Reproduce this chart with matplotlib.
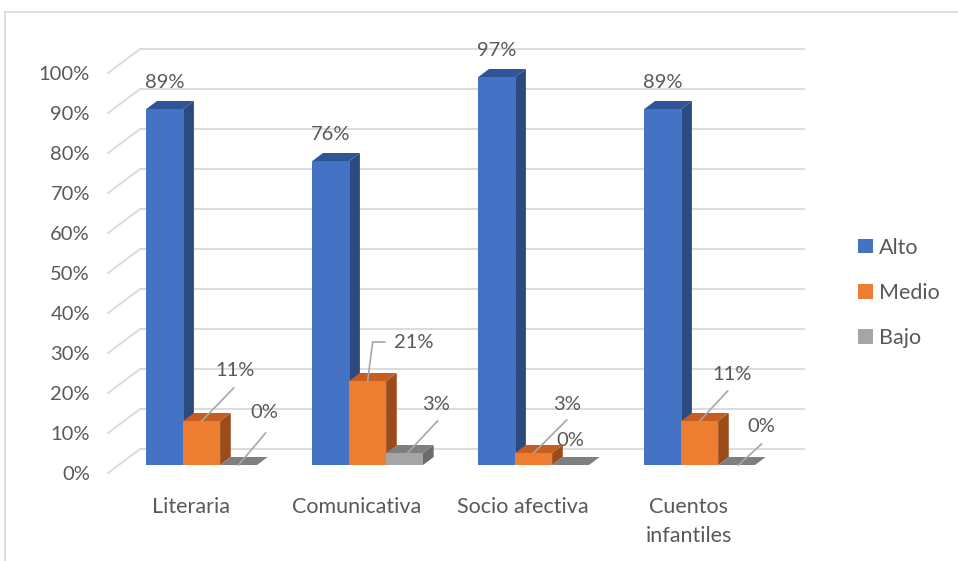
import matplotlib
matplotlib.use('Agg')
import matplotlib.pyplot as plt
from matplotlib.patches import Polygon, Patch
from matplotlib.lines import Line2D
from matplotlib.transforms import IdentityTransform

# ---------------- data ----------------
categories = ['Literaria', 'Comunicativa', 'Socio afectiva', 'Cuentos\ninfantiles']
series = ['Alto', 'Medio', 'Bajo']
alto = [89, 76, 97, 89]
medio = [11, 21, 3, 11]
bajo = [0, 3, 0, 0]
yticks = list(range(0, 101, 10))
ytick_labels = [f'{v}%' for v in yticks]

# ---------------- style ----------------
plt.rcParams['font.family'] = ['Lato', 'DejaVu Sans']
TXT = '#595959'
GRID = '#D9D9D9'
FS_NUM = 14.5
FS_TXT = 15.5
front_c = ['#4472C4', '#ED7D31', '#A5A5A5']
top_c = ['#2F5597', '#C55E1F', '#7F7F7F']
side_c = ['#2A4A80', '#9C4B1B', '#6B6B6B']

W, H = 958, 561
fig = plt.figure(figsize=(W / 100, H / 100), dpi=100)
ax = fig.add_axes([108 / W, 88 / H, 664 / W, 400 / H])
ax.set_xlim(0, 4)
ax.set_ylim(0, 100)
for s in ax.spines.values():
    s.set_visible(False)

# oblique depth (data units) of the whole floor
DX, DY = 32 / 166, 6.0

# chart border
fig.add_artist(Line2D([5 / W, 5 / W], [0, 1 - 12 / H], color=GRID, lw=1.2, transform=fig.transFigure))
fig.add_artist(Line2D([5 / W, 1], [1 - 12 / H, 1 - 12 / H], color=GRID, lw=1.2, transform=fig.transFigure))

# back wall and side wall gridlines
for v in yticks:
    ax.plot([DX, 4 + DX], [v + DY, v + DY], color=GRID, lw=1.3, clip_on=False, zorder=1)
    ax.plot([0, DX], [v, v + DY], color=GRID, lw=1.3, clip_on=False, zorder=1)

# axis labels
ax.set_yticks(yticks)
ax.set_yticklabels(ytick_labels)
ax.set_xticks([i + 0.5 for i in range(len(categories))])
ax.set_xticklabels(categories, linespacing=1.6)
ax.tick_params(axis='y', length=0, pad=13, labelsize=FS_NUM, labelcolor=TXT)
ax.tick_params(axis='x', length=0, pad=17, labelsize=FS_TXT, labelcolor=TXT)
for lab in ax.get_xticklabels():
    lab.set_verticalalignment('top')

# bars
values = [alto, medio, bajo]
nser = len(series)
bw = 1 / (nser + 1.5)
gap = 0.75 * bw
d1x, d1y = DX / 3, DY / 3
d2x, d2y = 2 * DX / 3, 2 * DY / 3

anchors = {}
z = 3
for i in range(len(categories)):
    for j in range(nser):
        v = values[j][i]
        x0 = i + gap + j * bw
        x1 = x0 + bw
        fx0, fx1 = x0 + d1x, x1 + d1x
        by = d1y
        if v > 0:
            ax.add_patch(Polygon([(fx0, by), (fx1, by), (fx1, v + by), (fx0, v + by)],
                                 closed=True, fc=front_c[j], ec='none', clip_on=False, zorder=z))
            ax.add_patch(Polygon([(fx1, by), (x1 + d2x, d2y), (x1 + d2x, v + d2y), (fx1, v + by)],
                                 closed=True, fc=side_c[j], ec='none', clip_on=False, zorder=z))
        ax.add_patch(Polygon([(fx0, v + by), (fx1, v + by), (x1 + d2x, v + d2y), (x0 + d2x, v + d2y)],
                             closed=True, fc=top_c[j], ec='none', clip_on=False, zorder=z))
        z += 1
        anchors[(i, j)] = ((fx0 + fx1) / 2, v + by)

# data labels: text offsets and leader polylines, in pixels (image y downward)
label_off = {
    (0, 0): (0, -26), (0, 1): (33, -50), (0, 2): (26, -52),
    (1, 0): (0, -26), (1, 1): (46, -38), (1, 2): (32, -48),
    (2, 0): (0, -26), (2, 1): (33, -48), (2, 2): (0, -25),
    (3, 0): (0, -26), (3, 1): (32, -47), (3, 2): (25, -38),
}
leaders = {
    (0, 1): [(0, 0), (32, -33)],
    (0, 2): [(0, 0), (27, -32)],
    (1, 1): [(0, 0), (5, -39), (17, -39)],
    (1, 2): [(3, 0), (33, -32)],
    (2, 1): [(0, 0), (33, -33)],
    (3, 1): [(0, 0), (28, -30)],
    (3, 2): [(2, 0), (25, -21)],
}

fig.canvas.draw()
for (i, j), (ox, oy) in label_off.items():
    ax_, ay_ = anchors[(i, j)]
    px, py = ax.transData.transform((ax_, ay_))
    if (i, j) in leaders:
        pts = leaders[(i, j)]
        fig.add_artist(Line2D([px + p[0] for p in pts], [py - p[1] for p in pts],
                              color='#A6A6A6', lw=1.2, transform=IdentityTransform(), zorder=50))
    fig.text((px + ox) / W, (py - oy) / H, f'{values[j][i]}%', ha='center', va='center',
             fontsize=FS_NUM, color=TXT, zorder=60)

# legend
handles = [Patch(fc=front_c[j], ec='none') for j in range(nser)]
fig.legend(handles, series, loc='center left', bbox_to_anchor=(858 / W, 1 - 293 / H),
           frameon=False, fontsize=FS_TXT, labelcolor=TXT, handlelength=0.68, handleheight=0.68,
           handletextpad=0.3, labelspacing=1.18, borderpad=0, borderaxespad=0)

fig.savefig('out.png', dpi=100)
